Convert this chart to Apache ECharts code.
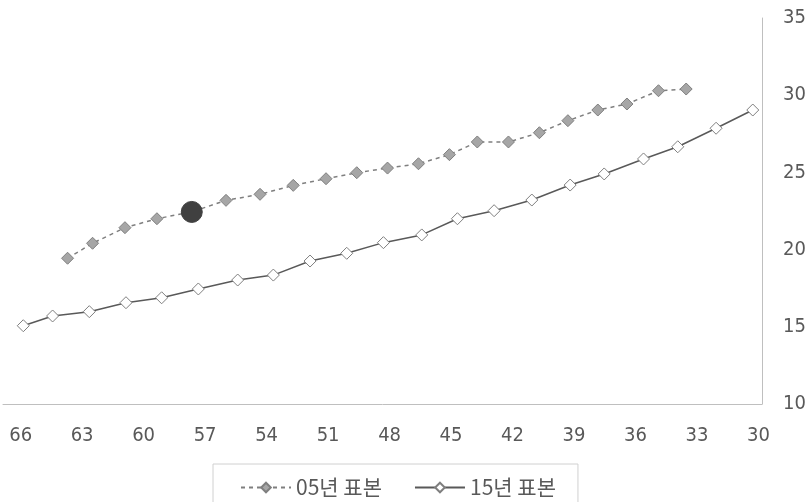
<!DOCTYPE html>
<html>
<head>
<meta charset="utf-8">
<script src="https://cdn.jsdelivr.net/npm/echarts@6/dist/echarts.min.js"></script>
<style>html,body{margin:0;padding:0;background:#fff}#c{width:809px;height:502px}</style>
</head>
<body>
<div id="c"></div>
<script>
var seriesNames = ['05년 표본', '15년 표본'];
var ages05 = [63.71, 62.49, 60.91, 59.35, 57.65, 55.98, 54.32, 52.70, 51.10, 49.60, 48.10, 46.59, 45.08, 43.72, 42.20, 40.69, 39.30, 37.84, 36.42, 34.88, 33.53];
var vals05 = [19.44, 20.41, 21.42, 22.00, 22.44, 23.19, 23.58, 24.16, 24.59, 24.98, 25.28, 25.56, 26.15, 26.97, 26.97, 27.57, 28.35, 29.04, 29.43, 30.29, 30.40];
var ages15 = [65.87, 64.44, 62.65, 60.86, 59.12, 57.33, 55.41, 53.67, 51.88, 50.09, 48.30, 46.43, 44.69, 42.90, 41.06, 39.19, 37.53, 35.61, 33.94, 32.07, 30.28];
var vals15 = [15.07, 15.70, 15.98, 16.56, 16.88, 17.45, 18.03, 18.35, 19.26, 19.76, 20.45, 20.95, 22.00, 22.52, 23.21, 24.18, 24.90, 25.87, 26.66, 27.86, 29.04];
var highlightIndex05 = 4;
var xTickLabels = [30, 33, 36, 39, 42, 45, 48, 51, 54, 57, 60, 63, 66];

var data05 = ages05.map(function (a, i) {
  var p = { value: [a, vals05[i]] };
  if (i === highlightIndex05) {
    p.symbol = 'circle';
    p.symbolSize = 21;
    p.itemStyle = { color: '#404040', borderColor: '#404040', borderWidth: 1 };
  }
  return p;
});
var data15 = ages15.map(function (a, i) { return [a, vals15[i]]; });

var fontFam = '"DejaVu Sans Condensed", "DejaVu Sans", sans-serif';
var chart = echarts.init(document.getElementById('c'), null, { renderer: 'canvas' });
chart.setOption({
  animation: false,
  backgroundColor: '#ffffff',
  grid: { left: 3, right: 47, top: 18, bottom: 98, containLabel: false },
  xAxis: {
    type: 'value',
    inverse: true,
    min: 29.83,
    max: 66.86,
    axisLine: { show: true, lineStyle: { color: '#bfbfbf', width: 1 } },
    axisTick: { show: false },
    splitLine: { show: false },
    axisLabel: {
      customValues: xTickLabels,
      color: '#595959',
      fontSize: 20,
      fontFamily: fontFam,
      margin: 22
    }
  },
  yAxis: {
    type: 'value',
    position: 'right',
    min: 10,
    max: 35,
    interval: 5,
    axisLine: { show: true, lineStyle: { color: '#bfbfbf', width: 1 } },
    axisTick: { show: false },
    splitLine: { show: false },
    axisLabel: {
      color: '#595959',
      fontSize: 20,
      fontFamily: fontFam,
      margin: 21
    }
  },
  legend: {
    left: 213,
    top: 464,
    orient: 'horizontal',
    borderColor: '#d0d0d0',
    borderWidth: 1,
    padding: [13, 22, 20, 27],
    itemGap: 32,
    itemWidth: 50,
    itemHeight: 12,
    textStyle: { color: '#595959', fontSize: 21, fontFamily: '"Noto Sans CJK KR", sans-serif' },
    data: seriesNames
  },
  series: [
    {
      name: seriesNames[0],
      type: 'line',
      data: data05,
      symbol: 'diamond',
      symbolSize: 12,
      lineStyle: { color: '#7f7f7f', width: 1.5, type: [4, 4] },
      itemStyle: { color: '#a6a6a6', borderColor: '#7f7f7f', borderWidth: 1 }
    },
    {
      name: seriesNames[1],
      type: 'line',
      data: data15,
      symbol: 'diamond',
      symbolSize: 12,
      lineStyle: { color: '#595959', width: 1.5 },
      itemStyle: { color: '#ffffff', borderColor: '#7f7f7f', borderWidth: 1 }
    }
  ]
});
</script>
</body>
</html>
